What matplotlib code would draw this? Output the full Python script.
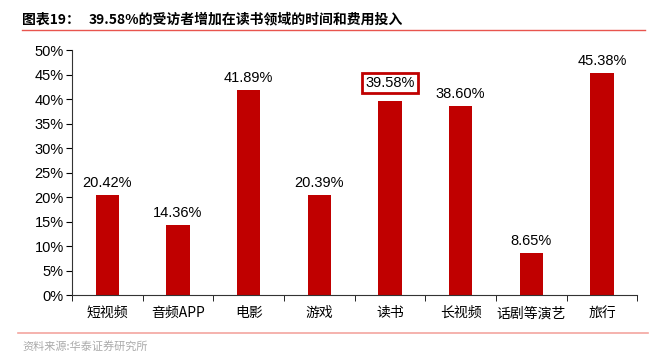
import matplotlib.pyplot as plt
from matplotlib.lines import Line2D

plt.rcParams['font.family'] = ['Noto Sans CJK SC', 'DejaVu Sans']

# Data
categories = ["短视频", "音频APP", "电影", "游戏", "读书", "长视频", "话剧等演艺", "旅行"]
values = [20.42, 14.36, 41.89, 20.39, 39.58, 38.60, 8.65, 45.38]
highlight = "读书"
yticks = [0, 5, 10, 15, 20, 25, 30, 35, 40, 45, 50]

bar_color = "#C00000"

fig = plt.figure(figsize=(6.55, 3.53), dpi=100)
ax = fig.add_axes([0.110, 0.164, 0.863, 0.694])

x = range(len(categories))
ax.bar(x, values, width=0.33, color=bar_color, zorder=2)
ax.set_xlim(-0.5, len(categories) - 0.5)
ax.set_ylim(0, 50)
ax.set_yticks(yticks)
ax.set_yticklabels([f"{t}%" for t in yticks], fontsize=10.5, family=['Liberation Sans', 'DejaVu Sans'])
ax.set_xticks(x)
ax.set_xticklabels(categories, fontsize=10)
ax.set_xticks([i + 0.5 for i in range(-1, len(categories))], minor=True)
ax.tick_params(axis="x", which="major", length=0, pad=8)
ax.tick_params(axis="x", which="minor", length=4, direction="out")
ax.tick_params(axis="y", length=4, direction="out", pad=2)

for s in ["top", "right"]:
    ax.spines[s].set_visible(False)
for s in ["left", "bottom"]:
    ax.spines[s].set_color("#333333")
    ax.spines[s].set_linewidth(0.8)

for i, (c, v) in enumerate(zip(categories, values)):
    kw = dict(ha="center", va="bottom", fontsize=10.5, family=['Liberation Sans', 'DejaVu Sans'])
    if c == highlight:
        kw["bbox"] = dict(boxstyle="square,pad=0.2", fc="white", ec=bar_color, lw=2)
        ax.text(i, v + 2.2, f"{v:.2f}%", **kw)
    else:
        ax.text(i, v + 1.0, f"{v:.2f}%", **kw)

# Title and rules
fig.text(0.034, 0.944, "图表19：", fontsize=10, fontweight="bold", va="center")
fig.text(0.135, 0.944, "39.58%的受访者增加在读书领域的时间和费用投入", fontsize=10,
         fontweight="bold", va="center")
fig.add_artist(Line2D([0.034, 0.985], [0.915, 0.915], color="#E8554E", lw=1))
fig.add_artist(Line2D([0.028, 0.99], [0.058, 0.058], color="#F4A6A0", lw=1.2))
fig.text(0.034, 0.004, "资料来源:华泰证券研究所", fontsize=8, color="#AAAAAA", va="bottom")

fig.savefig("out.png", dpi=100)
